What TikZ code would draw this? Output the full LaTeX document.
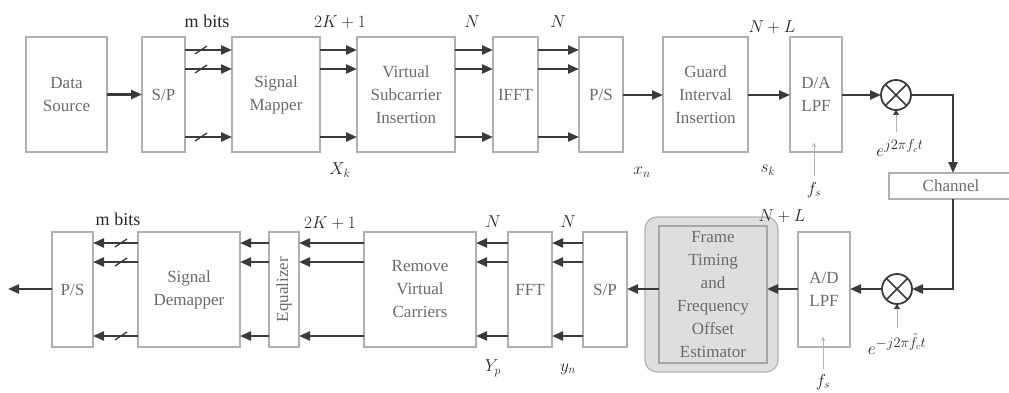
\documentclass[tikz,border=0pt]{standalone}
\usepackage{fontspec}
\setmainfont{Liberation Serif}
\usetikzlibrary{arrows.meta,calc}
\definecolor{boxc}{HTML}{B0B0B0}
\definecolor{textc}{HTML}{6A6A6A}
\definecolor{arrc}{HTML}{3A3A3A}
\definecolor{ftefill}{HTML}{DEDEDE}
\begin{document}
\begin{tikzpicture}[x=1pt,y=-1pt,font=\fontsize{17}{23}\selectfont,
  blk/.style={draw=boxc,line width=1.2pt,inner sep=0pt,outer sep=0pt,text=textc,align=center,minimum height=115},
  arr/.style={draw=arrc,line width=2.3pt,-{Triangle[length=11pt,width=9pt]}},
  thinarr/.style={draw=gray!60,line width=0.7pt,-{To[length=4pt,width=5pt]}},
  loarr/.style={draw=gray!60,line width=0.7pt,-{Triangle[length=5pt,width=6pt,color=arrc]}},
  slash/.style={draw=arrc,line width=1.3pt},
  mix/.style={circle,draw=arrc,line width=1.8pt,minimum size=30,inner sep=0pt,outer sep=0pt},
  lbl/.style={text=black!85,inner sep=0pt,font=\fontsize{18}{22}\selectfont},
  lolbl/.style={text=black!85,inner sep=0pt,font=\fontsize{19}{22}\selectfont}]
\useasboundingbox (0,0) rectangle (1009,393);
% row coordinates
\coordinate (r1) at (0,50);
\coordinate (r2) at (0,69);
\coordinate (r3) at (0,137);
\coordinate (b1) at (0,243);
\coordinate (b2) at (0,262);
\coordinate (b3) at (0,336);
% top row blocks
\node[blk,minimum width=81] (ds) at (66.5,94.5) {Data\\Source};
\node[blk,minimum width=43] (sp1) at (163.5,94.5) {S/P};
\node[blk,minimum width=88] (sm) at (276,94.5) {Signal\\Mapper};
\node[blk,minimum width=98] (vsi) at (406,94.5) {Virtual\\Subcarrier\\Insertion};
\node[blk,minimum width=45] (ifft) at (515.5,94.5) {IFFT};
\node[blk,minimum width=44] (ps1) at (601,94.5) {P/S};
\node[blk,minimum width=85] (gi) at (705.5,94.5) {Guard\\Interval\\Insertion};
\node[blk,minimum width=52] (da) at (816,94.5) {D/A\\LPF};
\node[mix] (mx1) at (896,95) {};
\draw[arrc,line width=1.5pt] (mx1.45) -- (mx1.225) (mx1.135) -- (mx1.-45);
\node[blk,minimum width=124,minimum height=26] (ch) at (951,186) {Channel};
% bottom row blocks
\node[blk,minimum width=41] (ps2) at (72.5,289.5) {P/S};
\node[blk,minimum width=102] (sd) at (189,289.5) {Signal\\Demapper};
\node[blk,minimum width=30] (eq) at (284,289.5) {};
\node[rotate=90,text=textc,inner sep=0pt] (eqt) at (eq.center) {Equalizer};
\node[blk,minimum width=112] (rvc) at (420,289.5) {Remove\\Virtual\\Carriers};
\node[blk,minimum width=44] (fft) at (530,289.5) {FFT};
\node[blk,minimum width=44] (sp2) at (605,289.5) {S/P};
\node[draw=boxc,fill=ftefill,line width=1.2pt,rounded corners=12,minimum width=133,minimum height=155,inner sep=0pt,outer sep=0pt] (fteo) at (711.5,294.5) {};
\node[blk,draw=gray!70,fill=ftefill,minimum width=108,minimum height=137] (fte) at (713,294.5) {Frame\\Timing\\and\\Frequency\\Offset\\Estimator};
\node[blk,minimum width=52] (ad) at (824,289.5) {A/D\\LPF};
\node[mix] (mx2) at (897,289) {};
\draw[arrc,line width=1.5pt] (mx2.45) -- (mx2.225) (mx2.135) -- (mx2.-45);
\coordinate (out) at (8,289);
% top connectors
\draw[arr] (ds.east) -- (sp1.west |- ds.east);
\foreach \r in {r1,r2,r3}{
  \draw[arr] (sp1.east |- \r) -- (sm.west |- \r);
  \draw[slash] ($(sp1.east |- \r)+(10,4)$) -- ++(12,-8);
  \draw[arr] (sm.east |- \r) -- (vsi.west |- \r);
  \draw[arr] (vsi.east |- \r) -- (ifft.west |- \r);
  \draw[arr] (ifft.east |- \r) -- (ps1.west |- \r);
}
\draw[arr] (ps1.east |- mx1) -- (gi.west |- mx1);
\draw[arr] (gi.east |- mx1) -- (da.west |- mx1);
\draw[arr] (da.east |- mx1) -- (mx1.west);
\draw[arr] (mx1.east) -| ([xshift=2pt]ch.north);
\draw[arr] ([xshift=2pt]ch.south) |- (mx2.east);
% bottom connectors
\draw[arr] (mx2.west) -- (ad.east |- mx2);
\draw[arr] (ad.west |- mx2) -- (fte.east |- mx2);
\draw[arr] (fte.west |- mx2) -- (sp2.east |- mx2);
\foreach \r in {b1,b2,b3}{
  \draw[arr] (sp2.west |- \r) -- (fft.east |- \r);
  \draw[arr] (fft.west |- \r) -- (rvc.east |- \r);
  \draw[arr] (rvc.west |- \r) -- (eq.east |- \r);
  \draw[arr] (eq.west |- \r) -- (sd.east |- \r);
  \draw[arr] (sd.west |- \r) -- (ps2.east |- \r);
  \draw[slash] ($(sd.west |- \r)+(-23,4)$) -- ++(12,-8);
}
\draw[arr] (ps2.west |- mx2) -- (out);
% labels
\node[lbl] (mb1) at (207,21) {m bits};
\node[lbl] (k1) at (340,22) {$2K+1$};
\node[lbl] (n1) at (472,22) {$N$};
\node[lbl] (n2) at (558,22) {$N$};
\node[lbl] (nl1) at (772,27) {$N+L$};
\node[lbl] (xk) at (340,170) {$X_k$};
\node[lbl] (xn) at (642,172) {$x_n$};
\node[lbl] (sk) at (768,170) {$s_k$};
\node[lbl] (fs1) at (814,190) {$f_s$};
\node[lolbl] (lo1) at (900,148) {$e^{j2\pi f_c t}$};
\node[lbl] (mb2) at (118,219) {m bits};
\node[lbl] (k2) at (330,223) {$2K+1$};
\node[lbl] (n3) at (493,222) {$N$};
\node[lbl] (n4) at (568,222) {$N$};
\node[lbl] (nl2) at (782,216) {$N+L$};
\node[lbl] (yp) at (493,368) {$Y_p$};
\node[lbl] (yn) at (568,369) {$y_n$};
\node[lbl] (fs2) at (823,382) {$f_s$};
\node[lolbl] (lo2) at (897,344) {$e^{-j2\pi \hat{f}_c t}$};
% thin inputs
\coordinate (fs1e) at (814,143);
\coordinate (fs2e) at (823,337);
\draw[thinarr] (fs1.north) ++(0,-6) -- (fs1e);
\draw[thinarr] (fs2.north) ++(0,-5) -- (fs2e);
\draw[loarr] ($(mx1.south)+(0,22)$) -- (mx1.south);
\draw[loarr] ($(mx2.south)+(0,24)$) -- (mx2.south);
\end{tikzpicture}
\end{document}
